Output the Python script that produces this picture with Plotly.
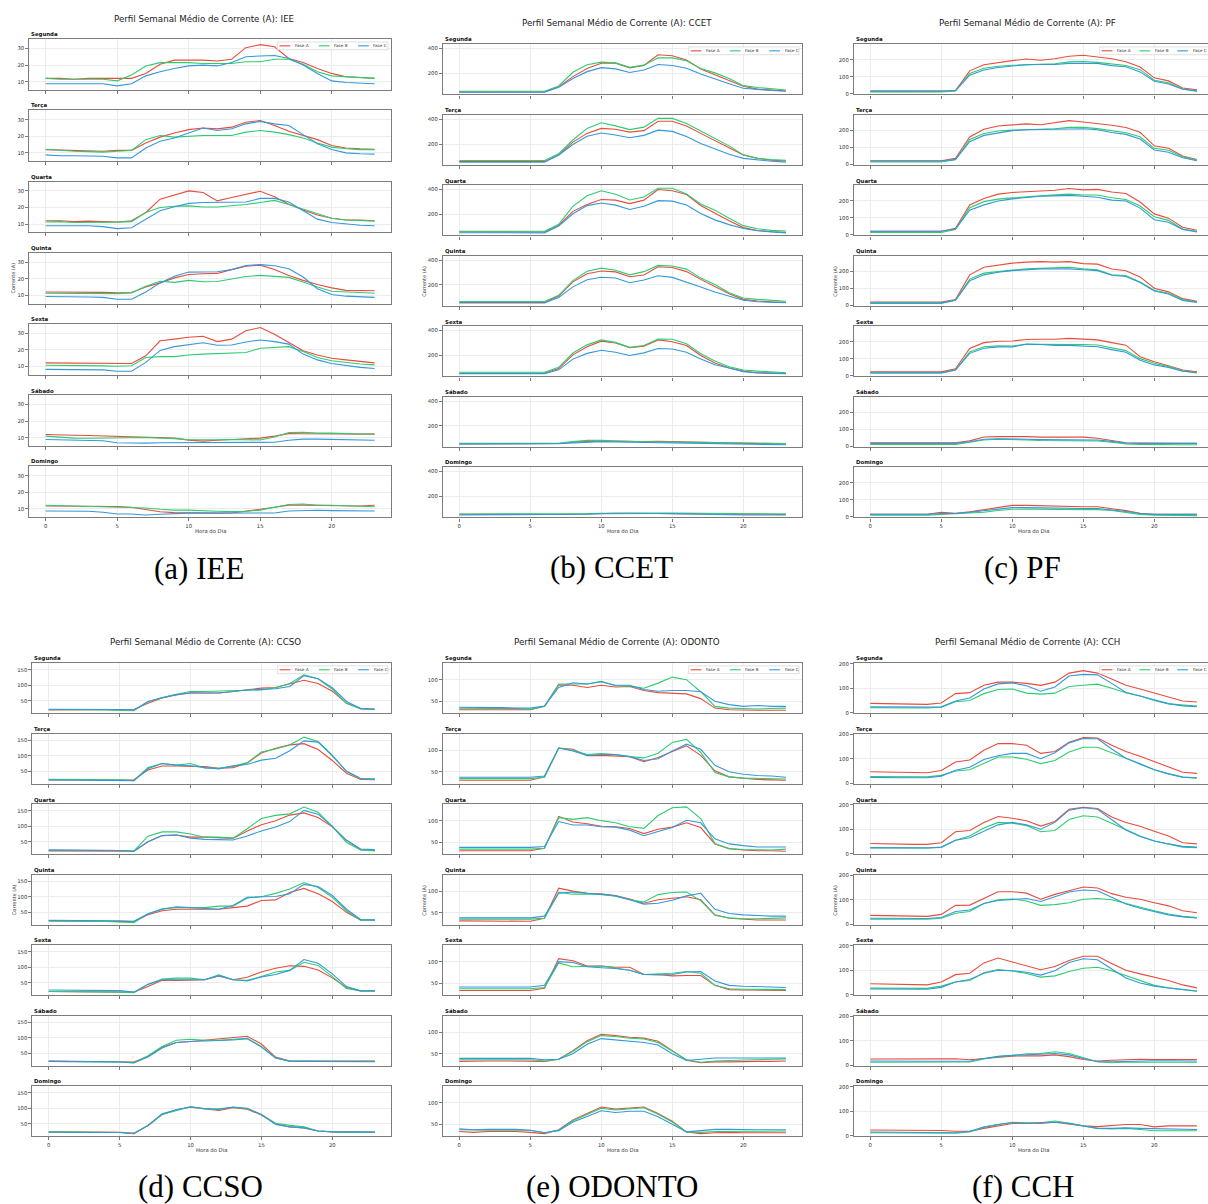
import plotly.graph_objects as go

# ---------------------------------------------------------------------------
# Average weekly current profile (A) per building, hour by hour, three phases
# ---------------------------------------------------------------------------
HOURS = list(range(24))
DAYS = ["Segunda", "Terça", "Quarta", "Quinta", "Sexta", "Sábado", "Domingo"]
PHASES = ["Fase A", "Fase B", "Fase C"]

# IEE ---------------------------------------------------------------------
IEE_A = [
    [12, 12, 11.5, 12, 12, 12, 12, 15, 20.5, 23, 23, 23, 22.5, 23.5, 30.5, 32.3, 31, 24, 21.5, 18, 15, 13, 12.5, 12],
    [12, 11.8, 11.5, 11.5, 11, 11.5, 11.5, 16, 19.5, 22, 24, 25, 24.5, 25.5, 28.5, 29.5, 26.5, 23, 20.5, 18, 14.5, 13, 12.5, 12.2],
    [12, 12, 11.5, 11.8, 11.5, 11.3, 12, 17, 25, 27.5, 30, 29, 24, 26, 28, 29.8, 26.5, 22, 18.5, 15.5, 13.5, 12.5, 12.5, 12],
    [12, 12, 12, 11.8, 11.8, 11.5, 11.7, 15, 17.5, 20.5, 22.5, 23, 23.2, 25.5, 27.5, 28.2, 25.5, 22, 19, 16.5, 14.5, 13, 12.8, 12.8],
    [12.2, 12.2, 12.1, 12, 12, 11.8, 11.8, 16.5, 25.5, 26.5, 27.6, 28.2, 25, 26.5, 31.5, 33.5, 29.5, 24.5, 19.5, 17, 15, 14, 13, 12.2],
    [12, 11.6, 11.5, 11.4, 11.2, 11, 10.8, 10.6, 10.4, 9.8, 8.6, 8, 8.5, 9, 9.5, 9.8, 11, 12.5, 12.4, 12.3, 12.2, 12.2, 12.2, 12.2],
    [11.8, 11.8, 11.7, 11.5, 11.5, 11.5, 11, 9.5, 8.3, 7.8, 7.6, 7.4, 7.5, 7.6, 8.5, 9.8, 11, 12.3, 12.3, 12.2, 12, 11.8, 11.8, 12.2],
]
IEE_B = [
    [12, 11.5, 11.5, 11.5, 11.5, 10.5, 14, 19.5, 21.5, 21.5, 21.5, 21, 21, 21, 22, 22, 23.5, 23.5, 20.5, 16, 13.5, 13, 12.5, 12],
    [12.2, 11.5, 11, 10.8, 10.5, 11, 11.5, 18, 20.5, 19.5, 20, 20.5, 20.5, 20.5, 22.5, 23.5, 22.5, 21, 19, 16, 13.5, 12.5, 12, 12],
    [11.3, 11.5, 11, 11, 11, 11.2, 11.5, 17, 20, 20.8, 21, 20.3, 20.3, 21, 21.8, 23, 24.3, 21.8, 19, 16, 13.5, 12.5, 12, 11.8],
    [11.3, 11.3, 11, 11, 11, 11, 11.5, 15.5, 18.5, 17.8, 19, 18.2, 18.3, 19.8, 21.3, 22, 21.2, 20.8, 18, 15, 12.5, 12, 11.8, 11.3],
    [10.8, 10.8, 10.6, 10.5, 10.4, 10.2, 10.5, 15.5, 16, 16, 17, 17.5, 17.8, 17.8, 18.5, 21, 21.3, 22, 19, 15.5, 13.5, 12.5, 11.5, 11],
    [11, 10.2, 9.8, 9.7, 9.7, 9.7, 10, 10.2, 10, 9.5, 8.8, 8.6, 8.8, 9, 8.8, 8.7, 10.5, 13.2, 13.3, 12.8, 12.8, 12.4, 12.3, 12.3],
    [12.2, 12, 11.7, 11.5, 11.3, 11.2, 11.2, 10.6, 9.8, 9.3, 9.3, 8.8, 8.6, 8.4, 8.6, 9.3, 11, 12.7, 13, 12.2, 12.2, 12, 11.6, 11.3],
]
IEE_C = [
    [8.8, 8.8, 8.8, 8.8, 8.8, 7.5, 8.8, 13.5, 16, 18, 19.5, 20, 19.5, 21.5, 25, 25.5, 25.8, 24, 20, 15, 10.5, 9.5, 9, 8.8],
    [8.8, 8.3, 8.3, 8.3, 8, 7, 7, 13, 17, 19, 22, 25, 23.5, 24.5, 27.5, 29, 27.5, 26.5, 21, 15.5, 12, 10, 9.5, 9.3],
    [9, 9, 9, 9, 8.5, 7.3, 7.8, 13, 18, 20.5, 22.5, 23, 23, 23, 23.3, 25.5, 25.5, 23.3, 18, 13, 11, 10, 9.3, 9],
    [9.3, 9.3, 9.2, 9, 8.8, 7.6, 7.6, 12, 17.5, 21.5, 24, 24.3, 24.2, 25.5, 28, 28.5, 27.8, 26, 21, 14, 10.5, 9.5, 9, 8.8],
    [8.3, 8.3, 8.3, 8.3, 8, 7.2, 7.2, 12.5, 19.7, 22, 23, 24.3, 22.8, 23, 24.8, 26, 25, 23.5, 17.5, 14, 11.8, 10.5, 9.5, 8.8],
    [9, 8.8, 8.7, 8.5, 8.2, 7, 6.8, 6.8, 7, 7, 7.2, 7.2, 7, 7, 7, 7, 7.3, 8.5, 9.2, 9.2, 9, 9, 8.8, 8.5],
    [8.8, 8.8, 8.8, 8.6, 8, 7, 7, 6.4, 6.8, 7.3, 7.5, 7.5, 7.5, 7.4, 7.2, 7.2, 7.6, 8.8, 9.2, 9.2, 9, 9, 8.8, 8.8],
]

# CCET --------------------------------------------------------------------
CCET_A = [
    [53, 53, 52, 52, 52, 52, 52, 92, 175, 240, 282, 283, 245, 265, 350, 342, 308, 237, 190, 145, 98, 75, 65, 60],
    [60, 60, 60, 60, 60, 60, 60, 112, 215, 285, 325, 318, 295, 307, 382, 382, 345, 285, 225, 170, 113, 85, 70, 65],
    [62, 61, 60, 60, 60, 60, 60, 112, 225, 280, 320, 315, 287, 315, 400, 390, 360, 272, 208, 150, 95, 72, 62, 57],
    [60, 60, 60, 60, 60, 60, 60, 112, 225, 290, 312, 305, 266, 280, 346, 340, 307, 245, 185, 130, 85, 72, 65, 62],
    [57, 57, 57, 57, 57, 57, 58, 95, 205, 270, 315, 300, 262, 275, 325, 310, 280, 200, 140, 100, 75, 62, 58, 57],
    [58, 58, 58, 58, 58, 58, 55, 60, 72, 78, 80, 78, 75, 76, 77, 74, 72, 70, 66, 62, 60, 58, 57, 57],
    [58, 57, 57, 57, 57, 57, 55, 56, 58, 62, 65, 66, 66, 66, 65, 64, 62, 60, 58, 58, 58, 57, 57, 57],
]
CCET_B = [
    [58, 58, 58, 58, 58, 58, 58, 100, 210, 270, 291, 285, 249, 267, 326, 325, 302, 240, 205, 160, 103, 88, 75, 68],
    [68, 68, 68, 68, 68, 68, 68, 122, 232, 325, 370, 345, 315, 335, 405, 405, 365, 305, 245, 185, 112, 86, 75, 70],
    [66, 66, 66, 65, 65, 65, 66, 122, 265, 350, 390, 362, 316, 340, 410, 410, 365, 284, 235, 170, 111, 86, 73, 68],
    [68, 68, 68, 68, 68, 68, 68, 117, 235, 310, 335, 318, 281, 307, 357, 352, 327, 255, 204, 138, 96, 85, 75, 70],
    [66, 66, 66, 66, 66, 66, 66, 105, 220, 285, 325, 305, 265, 280, 331, 330, 294, 214, 155, 110, 84, 75, 68, 62],
    [62, 62, 62, 62, 62, 62, 62, 62, 75, 85, 86, 80, 76, 74, 73, 72, 70, 70, 68, 65, 62, 60, 60, 60],
    [60, 60, 60, 60, 60, 60, 58, 58, 60, 63, 66, 68, 68, 68, 68, 68, 67, 66, 65, 62, 60, 60, 60, 60],
]
CCET_C = [
    [50, 50, 50, 50, 50, 50, 50, 89, 160, 215, 247, 237, 208, 228, 272, 264, 242, 196, 155, 118, 82, 72, 64, 58],
    [54, 54, 54, 54, 54, 54, 54, 112, 196, 262, 288, 272, 250, 269, 311, 301, 260, 204, 158, 118, 85, 72, 62, 55],
    [54, 54, 54, 54, 53, 53, 53, 107, 206, 271, 292, 275, 240, 266, 311, 307, 276, 208, 157, 119, 88, 70, 60, 53],
    [56, 56, 56, 56, 56, 56, 56, 100, 185, 242, 262, 256, 218, 240, 274, 261, 225, 184, 144, 108, 78, 66, 60, 58],
    [55, 55, 55, 55, 55, 55, 55, 85, 171, 217, 242, 226, 200, 221, 256, 252, 226, 172, 126, 100, 71, 60, 57, 55],
    [55, 55, 55, 55, 55, 55, 55, 58, 65, 72, 74, 72, 70, 70, 70, 70, 68, 66, 64, 60, 55, 52, 50, 50],
    [52, 52, 52, 52, 52, 52, 52, 52, 55, 58, 62, 64, 65, 65, 64, 63, 60, 57, 55, 53, 52, 52, 52, 52],
]

# PF ----------------------------------------------------------------------
PF_A = [
    [15, 15, 15, 15, 15, 15, 20, 136, 172, 186, 196, 206, 198, 207, 222, 228, 217, 207, 190, 159, 95, 77, 35, 25],
    [22, 22, 22, 22, 22, 22, 36, 162, 207, 226, 233, 239, 234, 248, 258, 250, 242, 231, 217, 189, 110, 95, 50, 29],
    [22, 22, 23, 23, 22, 22, 39, 176, 215, 240, 250, 256, 259, 263, 273, 265, 268, 253, 244, 194, 124, 99, 45, 28],
    [20, 20, 21, 21, 20, 20, 35, 180, 225, 239, 249, 255, 258, 255, 258, 246, 243, 214, 204, 168, 101, 80, 40, 25],
    [25, 25, 25, 24, 24, 24, 42, 162, 196, 204, 206, 214, 216, 216, 221, 216, 212, 196, 181, 113, 83, 60, 35, 25],
    [22, 22, 22, 22, 22, 22, 22, 33, 56, 58, 60, 58, 55, 55, 55, 55, 48, 35, 22, 20, 18, 18, 18, 18],
    [15, 15, 15, 15, 15, 27, 22, 30, 42, 58, 68, 68, 65, 65, 62, 60, 60, 50, 37, 22, 15, 15, 15, 15],
]
PF_B = [
    [12, 12, 12, 12, 12, 12, 17, 121, 151, 163, 169, 173, 175, 178, 189, 191, 186, 177, 168, 143, 81, 66, 29, 15],
    [15, 15, 15, 15, 15, 15, 28, 147, 182, 197, 202, 205, 207, 210, 218, 218, 211, 197, 187, 163, 95, 84, 45, 25],
    [15, 15, 15, 15, 15, 15, 32, 160, 196, 211, 218, 225, 231, 236, 240, 235, 235, 219, 209, 170, 107, 86, 35, 20],
    [12, 12, 12, 12, 12, 12, 30, 155, 190, 200, 208, 215, 220, 222, 225, 215, 210, 181, 176, 138, 90, 72, 35, 20],
    [18, 18, 18, 18, 18, 18, 35, 141, 172, 177, 176, 187, 186, 186, 189, 185, 182, 165, 149, 102, 75, 55, 30, 18],
    [12, 12, 12, 12, 12, 12, 12, 25, 38, 42, 42, 38, 35, 35, 35, 35, 32, 25, 15, 12, 10, 10, 10, 10],
    [10, 10, 10, 10, 10, 15, 18, 22, 28, 38, 45, 46, 45, 45, 45, 45, 43, 38, 28, 15, 10, 8, 8, 8],
]
PF_C = [
    [18, 18, 18, 18, 18, 18, 20, 111, 141, 156, 166, 172, 173, 173, 180, 182, 180, 167, 160, 130, 75, 59, 28, 20],
    [20, 20, 20, 20, 20, 20, 30, 134, 171, 186, 199, 204, 206, 208, 212, 210, 204, 188, 177, 150, 85, 72, 40, 22],
    [22, 22, 22, 22, 22, 22, 35, 146, 177, 200, 212, 222, 228, 230, 233, 228, 222, 205, 200, 158, 90, 75, 33, 18],
    [15, 15, 15, 15, 15, 15, 30, 145, 180, 195, 205, 210, 215, 215, 215, 210, 205, 178, 170, 135, 85, 68, 30, 18],
    [18, 18, 18, 18, 18, 18, 35, 133, 163, 171, 171, 186, 185, 180, 180, 178, 172, 155, 139, 92, 65, 50, 28, 20],
    [18, 18, 18, 18, 18, 18, 18, 28, 42, 45, 45, 42, 40, 40, 40, 40, 38, 30, 20, 18, 18, 18, 18, 18],
    [15, 15, 15, 15, 15, 20, 20, 28, 38, 48, 55, 55, 53, 52, 52, 50, 50, 42, 32, 20, 15, 15, 15, 15],
]

# CCSO --------------------------------------------------------------------
CCSO_A = [
    [21, 21, 21, 21, 21, 21, 22, 42, 59, 69, 76, 75, 75, 80, 86, 91, 93, 104, 116, 106, 81, 42, 25, 23],
    [22, 22, 22, 22, 22, 22, 23, 54, 67, 67, 67, 65, 60, 62, 77, 109, 124, 135, 139, 120, 85, 44, 24, 23],
    [21, 21, 21, 21, 21, 21, 20, 50, 70, 72, 65, 65, 62, 61, 85, 105, 118, 136, 143, 128, 98, 55, 25, 22],
    [22, 22, 22, 22, 22, 21, 20, 42, 55, 60, 60, 60, 60, 65, 70, 88, 90, 114, 127, 110, 85, 50, 25, 25],
    [22, 22, 22, 22, 22, 22, 20, 38, 58, 58, 58, 60, 72, 60, 68, 85, 97, 105, 103, 91, 66, 35, 24, 24],
    [25, 25, 25, 25, 24, 23, 22, 40, 70, 85, 88, 92, 95, 100, 105, 80, 38, 25, 25, 25, 25, 25, 25, 25],
    [24, 24, 24, 24, 24, 23, 20, 44, 80, 95, 103, 97, 93, 102, 97, 78, 50, 40, 37, 27, 24, 24, 23, 23],
]
CCSO_B = [
    [22, 22, 22, 22, 21, 19, 18, 47, 61, 71, 80, 80, 82, 83, 84, 85, 92, 106, 134, 121, 87, 42, 25, 23],
    [24, 24, 24, 24, 24, 23, 20, 62, 75, 70, 75, 61, 60, 66, 78, 112, 122, 135, 160, 146, 102, 50, 26, 25],
    [23, 23, 23, 23, 23, 22, 20, 68, 82, 82, 75, 65, 65, 62, 92, 125, 135, 140, 162, 145, 100, 48, 24, 21],
    [22, 22, 22, 22, 21, 19, 17, 45, 61, 65, 65, 65, 70, 70, 96, 100, 111, 125, 146, 130, 98, 55, 25, 24],
    [22, 22, 22, 22, 21, 20, 18, 45, 62, 65, 65, 60, 76, 60, 58, 70, 85, 90, 116, 106, 70, 32, 24, 24],
    [24, 24, 24, 24, 23, 22, 20, 42, 72, 92, 95, 92, 92, 95, 98, 72, 35, 25, 24, 24, 24, 24, 24, 24],
    [24, 24, 24, 24, 24, 22, 18, 45, 80, 92, 105, 98, 98, 103, 100, 80, 52, 45, 40, 27, 24, 22, 22, 22],
]
CCSO_C = [
    [23, 23, 23, 23, 23, 22, 20, 48, 60, 70, 75, 75, 75, 80, 85, 87, 89, 96, 131, 121, 92, 48, 25, 23],
    [22, 22, 22, 22, 22, 21, 20, 58, 75, 70, 68, 62, 58, 68, 72, 86, 92, 116, 148, 144, 100, 50, 27, 25],
    [24, 24, 24, 24, 24, 22, 19, 50, 70, 72, 62, 58, 57, 56, 69, 85, 98, 115, 151, 139, 100, 55, 27, 25],
    [24, 24, 24, 24, 24, 23, 21, 45, 60, 68, 65, 62, 60, 72, 98, 100, 101, 110, 140, 133, 104, 60, 27, 26],
    [27, 27, 27, 27, 26, 25, 20, 45, 60, 60, 60, 60, 73, 60, 56, 69, 77, 90, 125, 113, 79, 38, 24, 24],
    [24, 24, 24, 24, 23, 22, 19, 38, 67, 85, 88, 90, 90, 93, 97, 70, 35, 25, 24, 24, 24, 23, 23, 23],
    [23, 23, 23, 23, 23, 22, 18, 45, 82, 95, 105, 99, 96, 104, 99, 80, 48, 40, 37, 27, 24, 24, 24, 24],
]

# ODONTO ------------------------------------------------------------------
ODONTO_A = [
    [30, 30, 30, 30, 30, 30, 38, 88, 87, 82, 87, 83, 84, 75, 70, 68, 67, 56, 34, 30, 29, 29, 29, 29],
    [30, 30, 30, 30, 30, 30, 38, 105, 102, 87, 88, 87, 85, 73, 83, 97, 110, 88, 52, 38, 35, 32, 31, 30],
    [30, 30, 30, 30, 30, 30, 36, 110, 97, 93, 87, 86, 82, 70, 80, 85, 95, 84, 46, 35, 32, 30, 30, 29],
    [31, 31, 31, 31, 31, 30, 37, 107, 100, 95, 94, 90, 82, 72, 80, 83, 87, 80, 45, 37, 35, 33, 33, 33],
    [33, 33, 33, 33, 33, 33, 38, 107, 102, 90, 90, 87, 87, 70, 70, 67, 68, 68, 45, 35, 34, 34, 33, 33],
    [32, 33, 33, 33, 33, 33, 32, 37, 57, 80, 95, 92, 88, 86, 79, 57, 35, 29, 31, 31, 32, 32, 32, 33],
    [33, 31, 33, 33, 33, 31, 28, 37, 60, 75, 90, 85, 88, 90, 75, 57, 32, 28, 30, 31, 30, 30, 30, 30],
]
ODONTO_B = [
    [34, 33, 33, 33, 33, 31, 38, 90, 90, 90, 96, 86, 85, 80, 92, 106, 100, 72, 38, 34, 33, 32, 33, 34],
    [34, 34, 34, 34, 34, 34, 37, 105, 100, 90, 92, 90, 85, 82, 93, 118, 125, 95, 48, 38, 35, 34, 34, 33],
    [34, 34, 34, 34, 34, 34, 36, 107, 103, 107, 100, 95, 86, 82, 112, 130, 132, 105, 47, 35, 33, 32, 32, 34],
    [35, 35, 35, 35, 35, 35, 37, 97, 93, 93, 93, 88, 80, 75, 92, 97, 98, 78, 44, 38, 36, 36, 37, 38],
    [37, 37, 37, 37, 37, 37, 40, 97, 88, 89, 90, 85, 80, 70, 72, 73, 77, 73, 45, 37, 36, 36, 36, 35],
    [36, 36, 36, 36, 36, 36, 33, 37, 55, 78, 92, 90, 86, 84, 76, 55, 36, 30, 33, 34, 35, 35, 36, 38],
    [37, 36, 36, 36, 36, 36, 30, 36, 58, 72, 87, 83, 86, 88, 73, 55, 32, 31, 33, 33, 33, 33, 33, 34],
]
ODONTO_C = [
    [36, 36, 36, 35, 34, 34, 39, 82, 93, 90, 95, 87, 87, 77, 73, 75, 75, 72, 50, 42, 38, 40, 38, 38],
    [37, 37, 37, 37, 37, 37, 40, 105, 98, 88, 90, 90, 85, 76, 80, 98, 114, 102, 65, 50, 44, 41, 40, 37],
    [38, 38, 38, 38, 38, 38, 40, 98, 90, 90, 86, 85, 78, 65, 75, 84, 101, 95, 58, 46, 42, 39, 39, 39],
    [38, 38, 38, 38, 38, 38, 42, 95, 98, 95, 93, 89, 80, 70, 72, 79, 89, 95, 58, 48, 45, 43, 42, 42],
    [41, 41, 41, 41, 41, 41, 45, 100, 98, 88, 86, 84, 80, 70, 69, 70, 76, 77, 55, 45, 43, 42, 41, 40],
    [39, 39, 39, 39, 39, 39, 36, 37, 50, 72, 85, 82, 78, 76, 70, 50, 34, 37, 40, 40, 40, 40, 39, 40],
    [39, 37, 38, 38, 38, 36, 30, 35, 55, 68, 81, 77, 80, 80, 67, 50, 32, 35, 38, 38, 37, 37, 37, 37],
]

# CCH ---------------------------------------------------------------------
CCH_A = [
    [38, 37, 36, 35, 34, 40, 78, 82, 112, 125, 125, 120, 112, 125, 162, 172, 162, 138, 112, 97, 80, 63, 48, 44],
    [47, 46, 45, 44, 43, 52, 87, 95, 135, 162, 162, 155, 122, 130, 168, 187, 185, 155, 130, 110, 88, 65, 45, 40],
    [42, 40, 39, 38, 38, 45, 90, 95, 128, 152, 145, 135, 113, 132, 182, 190, 185, 150, 128, 112, 92, 72, 45, 40],
    [36, 35, 34, 33, 32, 40, 77, 78, 105, 133, 133, 127, 102, 122, 137, 152, 148, 125, 110, 102, 88, 75, 55, 47],
    [45, 44, 43, 42, 40, 52, 82, 88, 130, 150, 135, 118, 102, 115, 140, 157, 157, 128, 100, 85, 72, 58, 40, 28],
    [25, 25, 25, 24, 24, 24, 26, 22, 27, 32, 37, 38, 38, 42, 35, 23, 17, 20, 23, 24, 23, 23, 23, 23],
    [23, 23, 23, 22, 22, 21, 18, 18, 30, 40, 50, 50, 50, 55, 47, 40, 37, 42, 46, 46, 36, 40, 40, 40],
]
CCH_B = [
    [20, 19, 19, 19, 19, 22, 45, 50, 78, 95, 97, 80, 76, 80, 107, 112, 117, 100, 82, 68, 50, 36, 30, 27],
    [27, 26, 26, 26, 26, 32, 50, 55, 80, 107, 107, 98, 80, 93, 128, 147, 147, 125, 105, 80, 55, 38, 25, 20],
    [25, 24, 24, 24, 24, 26, 55, 72, 105, 128, 125, 115, 90, 95, 140, 155, 150, 125, 100, 72, 52, 38, 27, 25],
    [20, 20, 20, 20, 20, 24, 45, 52, 85, 100, 103, 95, 77, 80, 88, 102, 105, 100, 85, 68, 55, 42, 32, 27],
    [27, 27, 26, 26, 26, 35, 52, 58, 90, 103, 97, 87, 72, 77, 95, 108, 112, 98, 78, 55, 38, 28, 20, 15],
    [12, 12, 12, 12, 12, 12, 12, 13, 25, 35, 40, 47, 48, 55, 48, 30, 14, 10, 13, 12, 12, 12, 12, 12],
    [12, 12, 12, 12, 12, 12, 10, 15, 35, 45, 55, 52, 53, 60, 52, 40, 30, 27, 30, 25, 20, 20, 20, 20],
]
CCH_C = [
    [24, 23, 23, 23, 23, 24, 48, 60, 97, 118, 122, 110, 88, 105, 150, 157, 155, 120, 83, 68, 52, 37, 28, 25],
    [24, 22, 22, 22, 22, 29, 53, 65, 97, 112, 122, 122, 100, 125, 165, 183, 182, 140, 102, 78, 55, 38, 25, 22],
    [24, 23, 23, 23, 23, 27, 55, 65, 92, 118, 128, 118, 100, 128, 178, 188, 182, 140, 97, 70, 52, 40, 30, 27],
    [24, 23, 23, 23, 23, 27, 52, 58, 85, 97, 102, 105, 93, 113, 132, 140, 137, 110, 83, 65, 50, 38, 30, 25],
    [23, 23, 22, 22, 22, 30, 52, 62, 88, 100, 98, 92, 80, 98, 132, 147, 143, 105, 68, 48, 35, 27, 20, 14],
    [17, 16, 16, 16, 16, 16, 16, 16, 27, 36, 40, 44, 45, 48, 42, 27, 14, 14, 16, 18, 18, 18, 17, 17],
    [15, 15, 14, 14, 14, 14, 12, 18, 35, 46, 53, 52, 52, 55, 50, 40, 30, 30, 32, 30, 28, 27, 26, 25],
]

# Per-building axis settings
Y_RANGES = {"IEE": [5.0, 35.6], "CCET": [32, 435], "PF": [-3, 293],
            "CCSO": [9.5, 171.4], "ODONTO": [21.6, 138.5], "CCH": [-3, 203]}
Y_TICKS = {"IEE": [10, 20, 30], "CCET": [200, 400], "PF": [0, 100, 200],
           "CCSO": [50, 100, 150], "ODONTO": [50, 100], "CCH": [0, 100, 200]}

# ---------------------------------------------------------------------------
# Figure geometry (pixels)
# ---------------------------------------------------------------------------
W, H = 1208, 1204
COLORS = ["#e74c3c", "#2ecc71", "#3498db"]
SPINE = "#7c7c7c"
GRID = "#ececec"
FONT = "DejaVu Sans"

PANELS = [
    dict(name="IEE", cap="(a) IEE", data=(IEE_A, IEE_B, IEE_C),
         x0=45.7, pph=14.3, top=37.3, step=71.45, h=51.0, title_y=16.7, cap_y=568, ylab_dx=16),
    dict(name="CCET", cap="(b) CCET", data=(CCET_A, CCET_B, CCET_C),
         x0=459.3, pph=14.2, top=42.3, step=70.73, h=50.5, title_y=21.0, cap_y=567, ylab_dx=19),
    dict(name="PF", cap="(c) PF", data=(PF_A, PF_B, PF_C),
         x0=870.3, pph=14.2, top=42.3, step=70.73, h=50.5, title_y=21.0, cap_y=567, ylab_dx=19),
    dict(name="CCSO", cap="(d) CCSO", data=(CCSO_A, CCSO_B, CCSO_C),
         x0=48.7, pph=14.18, top=663.3, step=70.73, h=50.5, title_y=641.7, cap_y=1188, ylab_dx=19),
    dict(name="ODONTO", cap="(e) ODONTO", data=(ODONTO_A, ODONTO_B, ODONTO_C),
         x0=459.3, pph=14.2, top=663.3, step=70.73, h=50.5, title_y=642.3, cap_y=1188, ylab_dx=19),
    dict(name="CCH", cap="(f) CCH", data=(CCH_A, CCH_B, CCH_C),
         x0=870.3, pph=14.2, top=663.3, step=70.73, h=50.5, title_y=641.7, cap_y=1188, ylab_dx=19),
]
XPAD = 1.15  # 5 % margin on the 0..23 hour span


def fx(px):
    return px / W


def fy(py):
    return 1 - py / H


fig = go.Figure()
layout = dict(width=W, height=H, margin=dict(l=0, r=0, t=0, b=0),
              paper_bgcolor="white", plot_bgcolor="white", showlegend=False,
              font=dict(family=FONT, color="#262626"))
annotations, shapes = [], []

k = 0
for p in PANELS:
    L = p["x0"] - XPAD * p["pph"]
    R = p["x0"] + (23 + XPAD) * p["pph"]
    Rc = min(R, W)
    x_end = (Rc - p["x0"]) / p["pph"]
    clipped = R > W
    cx = (L + R) / 2

    for d, day in enumerate(DAYS):
        k += 1
        top = p["top"] + d * p["step"]
        bot = top + p["h"]
        xn = "xaxis" if k == 1 else f"xaxis{k}"
        yn = "yaxis" if k == 1 else f"yaxis{k}"
        xr = "x" if k == 1 else f"x{k}"
        yr = "y" if k == 1 else f"y{k}"
        layout[xn] = dict(domain=[fx(L), fx(Rc)], range=[-XPAD, x_end], anchor=yr,
                          tickmode="array", tickvals=[0, 5, 10, 15, 20],
                          showticklabels=(d == 6), ticks="outside", ticklen=3,
                          tickwidth=0.8, tickcolor=SPINE,
                          tickfont=dict(size=5.3, color="#333333"),
                          showgrid=True, gridcolor=GRID, gridwidth=0.7,
                          showline=True, linecolor=SPINE, linewidth=1.1, mirror=True,
                          zeroline=False, fixedrange=True)
        layout[yn] = dict(domain=[fy(bot), fy(top)], range=Y_RANGES[p["name"]], anchor=xr,
                          tickmode="array", tickvals=Y_TICKS[p["name"]],
                          ticks="outside", ticklen=3, tickwidth=0.8, tickcolor=SPINE,
                          tickfont=dict(size=5.3, color="#333333"),
                          showgrid=True, gridcolor=GRID, gridwidth=0.7,
                          showline=True, linecolor=SPINE, linewidth=1.1,
                          mirror=(not clipped), zeroline=False, fixedrange=True)
        for s, series in enumerate(p["data"]):
            fig.add_trace(go.Scatter(x=HOURS, y=series[d], mode="lines", name=PHASES[s],
                                     line=dict(color=COLORS[s], width=1.1),
                                     xaxis=xr, yaxis=yr, hoverinfo="skip"))
        # day label above each subplot
        annotations.append(dict(text=f"<b>{day}</b>", x=fx(L), y=fy(top - 4.6),
                                xref="paper", yref="paper", xanchor="left", yanchor="middle",
                                showarrow=False, font=dict(size=5.4, color="#111111")))
        if d == 0:
            # legend box in the upper-right of the first subplot
            lg_l, lg_r = R - 113.8, R - 3.2
            lg_t, lg_b = top + 2.8, top + 10.6
            lg_c = (lg_t + lg_b) / 2
            # the last entry is nudged left when the panel runs past the page edge
            gap = 37.8 if clipped else 39.3
            shapes.append(dict(type="rect", xref="paper", yref="paper",
                               x0=fx(lg_l), x1=fx(lg_r), y0=fy(lg_b), y1=fy(lg_t),
                               line=dict(color="#d4d4d4", width=0.7), fillcolor="rgba(255,255,255,0.85)"))
            for s in range(3):
                ex = lg_l + 2.2 + s * gap
                shapes.append(dict(type="line", xref="paper", yref="paper",
                                   x0=fx(ex), x1=fx(ex + 10.8), y0=fy(lg_c), y1=fy(lg_c),
                                   line=dict(color=COLORS[s], width=1.1)))
                annotations.append(dict(text=PHASES[s], x=fx(ex + 13.4), y=fy(lg_c),
                                        xref="paper", yref="paper", xanchor="left", yanchor="middle",
                                        showarrow=False, font=dict(size=4.2, color="#333333")))
        if d == 3:
            annotations.append(dict(text="Corrente (A)", textangle=-90,
                                    x=fx(L - p["ylab_dx"]), y=fy((top + bot) / 2),
                                    xref="paper", yref="paper", xanchor="center", yanchor="middle",
                                    showarrow=False, font=dict(size=5.0, color="#333333")))
        if d == 6:
            annotations.append(dict(text="Hora do Dia", x=fx(cx), y=fy(bot + 14),
                                    xref="paper", yref="paper", xanchor="center", yanchor="middle",
                                    showarrow=False, font=dict(size=5.3, color="#333333")))

    annotations.append(dict(text=f"Perfil Semanal Médio de Corrente (A): {p['name']}",
                            x=fx(cx - 6), y=fy(p["title_y"]), xref="paper", yref="paper",
                            xanchor="center", yanchor="middle", showarrow=False,
                            font=dict(size=8.7, color="#1a1a1a")))
    annotations.append(dict(text=p["cap"], x=fx(cx - 11), y=fy(p["cap_y"]),
                            xref="paper", yref="paper", xanchor="center", yanchor="middle",
                            showarrow=False,
                            font=dict(family="Liberation Serif", size=31, color="#000000")))

layout["annotations"] = annotations
layout["shapes"] = shapes
fig.update_layout(**layout)
fig.write_html("out.html")
